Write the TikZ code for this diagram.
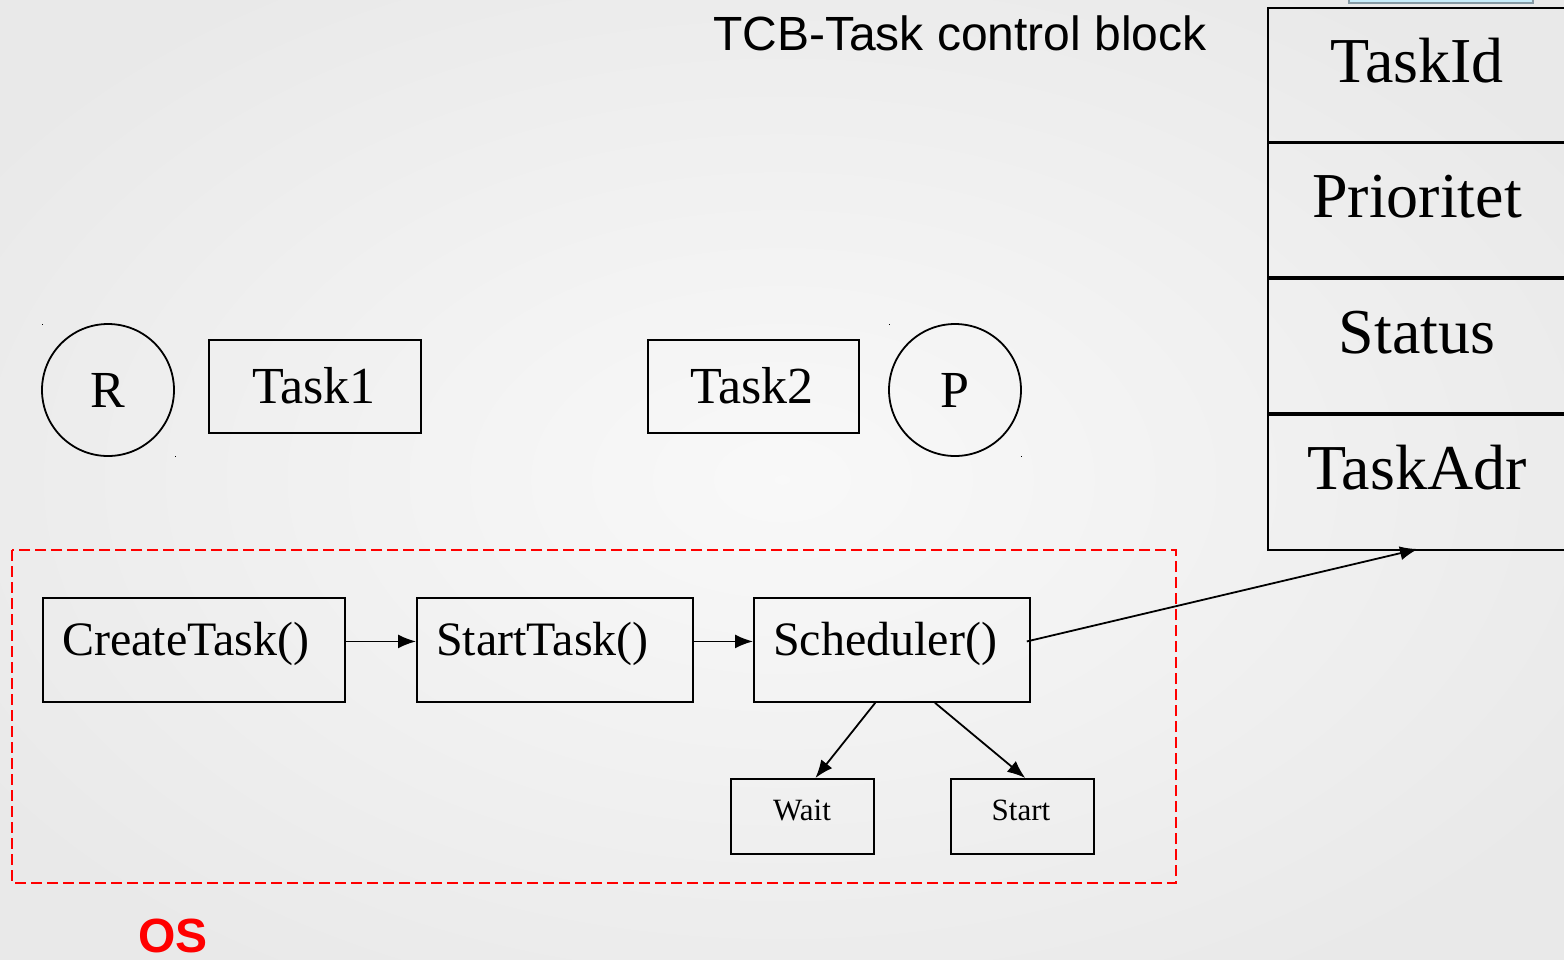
\documentclass[tikz,border=0pt]{standalone}
\usepackage{fontspec}
\setmainfont{Liberation Serif}
\newfontfamily\sansfont{Liberation Sans}
\usetikzlibrary{arrows.meta,calc}
\definecolor{osred}{RGB}{255,0,0}
\begin{document}
\begin{tikzpicture}[x=1pt,y=-1pt,
  outline/.style={draw=black,line width=1.8pt,rectangle,inner sep=0pt,anchor=north west},
  roundel/.style={draw=black,line width=1.8pt,circle,inner sep=0pt,minimum size=132pt},
  big/.style={font=\fontsize{52}{60}\selectfont},
  mid/.style={font=\fontsize{48}{56}\selectfont},
  small/.style={font=\fontsize{31}{36}\selectfont},
  huge/.style={font=\fontsize{64}{72}\selectfont},
  link/.style={line width=1.8pt,-{Latex[length=18pt,width=14pt]}},
  tcbcell/.style={draw=black,line width=2.2pt,rectangle,inner sep=0pt,anchor=north west,minimum width=320pt,minimum height=134pt},
  speck/.style={fill=black}]
\useasboundingbox (0,0) rectangle (1564,959);
\clip (0,0) rectangle (1564,959);
% soft background
\shade[inner color=white!97.5!black, outer color=white!91.5!black] (-150,-100) rectangle (1714,1059);

% partly hidden bar at the top edge
\draw[draw=gray!80!cyan,line width=1.2pt,fill=cyan!22] (1349,-6) rectangle (1533,3);

% title
\node[anchor=base west,inner sep=0pt,font=\sansfont\fontsize{48}{56}\selectfont] (title) at (713,50) {TCB-Task control block};

% task control block fields
\node[tcbcell] (tid) at (1267,7) {};
\node[tcbcell] (tpr) at (1267,142) {};
\node[tcbcell] (tst) at (1267,278) {};
\node[tcbcell,minimum height=135pt] (tad) at (1267,414) {};
\node[huge,anchor=base,inner sep=0pt] (tidl) at (1417,82) {TaskId};
\node[huge,anchor=base,inner sep=0pt] (tprl) at (1417,217) {Prioritet};
\node[huge,anchor=base,inner sep=0pt] (tstl) at (1417,353) {Status};
\node[huge,anchor=base,inner sep=0pt] (tadl) at (1417,489) {TaskAdr};
\coordinate (tcbin) at (1418,549);

% resources and tasks
\node[roundel] (r) at (108,390) {};
\node[big,anchor=base,inner sep=0pt] (rl) at (108,407) {R};
\node[roundel] (p) at (955,390) {};
\node[big,anchor=base,inner sep=0pt] (pl) at (955,407) {P};
\fill[speck] (41.5,323.5) rectangle +(1.8,1.8);
\fill[speck] (174.5,455.5) rectangle +(1.8,1.8);
\fill[speck] (888.5,323.5) rectangle +(1.8,1.8);
\fill[speck] (1020.5,455.5) rectangle +(1.8,1.8);

\node[outline,minimum width=212pt,minimum height=93pt] (t1) at (208,339) {};
\node[big,anchor=base,inner sep=0pt] (t1l) at (314,403) {Task1};
\node[outline,minimum width=211pt,minimum height=93pt] (t2) at (647,339) {};
\node[big,anchor=base,inner sep=0pt] (t2l) at (752,403) {Task2};

% operating system region
\draw[osred,line width=1.6pt,dash pattern=on 11pt off 5pt] (12,550) rectangle (1176,883);
\node[anchor=base west,inner sep=0pt,text=osred,font=\sansfont\bfseries\fontsize{48}{56}\selectfont] (os) at (138,952) {OS};

\node[outline,minimum width=302pt,minimum height=104pt] (ct) at (42,597) {};
\node[mid,anchor=base west,inner sep=0pt] (ctl) at (62,655) {CreateTask()};
\node[outline,minimum width=276pt,minimum height=104pt] (st) at (416,597) {};
\node[mid,anchor=base west,inner sep=0pt] (stl) at (436,655) {StartTask()};
\node[outline,minimum width=276pt,minimum height=104pt] (sc) at (753,597) {};
\node[mid,anchor=base west,inner sep=0pt] (scl) at (773,655) {Scheduler()};

\node[outline,minimum width=143pt,minimum height=75pt] (wt) at (730,778) {};
\node[small,anchor=base,inner sep=0pt] (wtl) at (802,820) {Wait};
\node[outline,minimum width=143pt,minimum height=75pt] (sa) at (950,778) {};
\node[small,anchor=base,inner sep=0pt] (sal) at (1021,820) {Start};

% calls
\draw[link] ($(ct.north east)!0.42!(ct.south east)$) -- ($(st.north west)!0.42!(st.south west)$);
\draw[link] ($(st.north east)!0.42!(st.south east)$) -- ($(sc.north west)!0.42!(sc.south west)$);
\draw[link] ($(sc.south west)!0.44!(sc.south east)$) -- ($(wt.north west)!0.59!(wt.north east)$);
\draw[link] ($(sc.south west)!0.655!(sc.south east)$) -- ($(sa.north west)!0.52!(sa.north east)$);
\draw[link] ($(sc.north east)!0.42!(sc.south east)+(-4,0)$) -- (tcbin);
\end{tikzpicture}
\end{document}
